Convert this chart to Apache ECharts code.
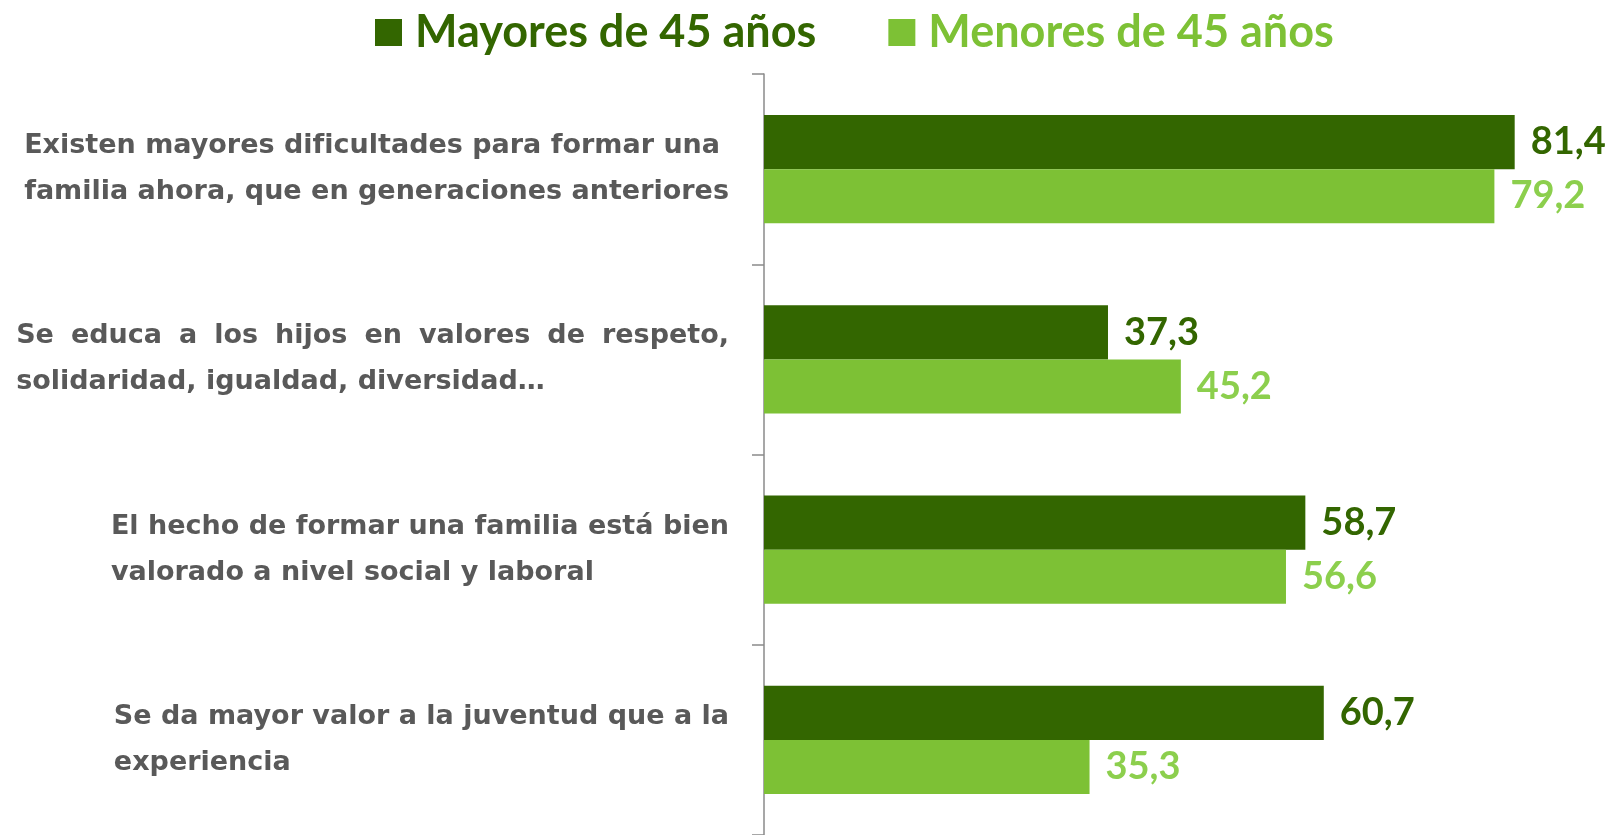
<!DOCTYPE html>
<html lang="es">
<head>
    <meta charset="utf-8">
    <title>Mayores y menores de 45 años</title>
    <script src="https://cdn.jsdelivr.net/npm/echarts@6/dist/echarts.min.js"></script>
    <style>
        html, body { margin: 0; padding: 0; background: #fff; }
        #box { width: 1610px; height: 835px; }
    </style>
</head>
<body>
<div id="box"></div>
<script>
    // datos
    var categorias = [
        'Existen mayores dificultades para formar una\nfamilia ahora, que en generaciones anteriores',
        'Se educa a los hijos en valores de respeto,\nsolidaridad, igualdad, diversidad…',
        'El hecho de formar una familia está bien\nvalorado a nivel social y laboral',
        'Se da mayor valor a la juventud que a la\nexperiencia'
    ];
    var mayores = [81.4, 37.3, 58.7, 60.7];
    var menores = [79.2, 45.2, 56.6, 35.3];
    var nombres = ['Mayores de 45 años', 'Menores de 45 años'];

    var oscuro = '#336600';
    var claro = '#7dc135';
    var claroTexto = '#8ccf4d';
    var fuente = 'Lato, "Open Sans", sans-serif';
    var fuenteEje = '"DejaVu Sans", sans-serif';
    var tamEje = 27;
    var justificar = [1]; // solo la segunda etiqueta va justificada

    function coma(p) {
        return String(p.value).replace('.', ',');
    }

    var ctx = document.createElement('canvas').getContext('2d');
    ctx.font = 'bold ' + tamEje + 'px ' + fuenteEje;
    var ancho = 0;
    categorias.forEach(function (c) {
        c.split('\n').forEach(function (l) { ancho = Math.max(ancho, ctx.measureText(l).width); });
    });
    ancho += 8;
    var base = { align: 'left', color: '#595959', fontFamily: fuenteEje, fontWeight: 'bold', fontSize: tamEje, lineHeight: 46 };
    var rich = { a: base };
    var extra = {};
    justificar.forEach(function (i) {
        var lineas = categorias[i].split('\n');
        lineas.forEach(function (l, k) {
            if (k === lineas.length - 1) return;
            var palabras = l.split(' ');
            var falta = ancho - ctx.measureText(l).width;
            if (falta > 0 && palabras.length > 1) {
                var key = 'j' + i + '_' + k;
                rich[key] = Object.assign({}, base, { padding: [0, falta / (palabras.length - 1), 0, 0] });
                extra[i + '_' + k] = key;
            }
        });
    });

    var myChart = echarts.init(document.getElementById('box'));
    var option = {
        animation: false,
        legend: {
            top: 5,
            left: 370,
            itemWidth: 27,
            itemHeight: 27,
            itemGap: 72,
            icon: 'rect',
            textStyle: { fontFamily: fuente, fontWeight: 'bold', fontSize: 45, padding: [0, 0, 0, 8] },
            data: [
                { name: nombres[0], textStyle: { color: oscuro } },
                { name: nombres[1], textStyle: { color: claro } }
            ]
        },
        grid: { left: 764, right: 16, top: 74, bottom: 0 },
        xAxis: {
            type: 'value',
            min: 0,
            max: 90,
            show: false
        },
        yAxis: {
            type: 'category',
            inverse: true,
            data: categorias,
            axisLine: { lineStyle: { color: '#8a8a8a', width: 1.5 } },
            axisTick: { show: true, length: 12, lineStyle: { color: '#8a8a8a', width: 1.5 } },
            axisLabel: {
                align: 'right',
                margin: 35,
                formatter: function (v, idx) {
                    return v.split('\n').map(function (l, k) {
                        var key = extra[idx + '_' + k];
                        if (!key) return '{a|' + l + '}';
                        var p = l.split(' ');
                        return p.map(function (w, n) {
                            return n < p.length - 1 ? '{' + key + '|' + w + ' }' : '{a|' + w + '}';
                        }).join('');
                    }).join('\n');
                },
                rich: rich
            }
        },
        series: [
            {
                name: nombres[0],
                type: 'bar',
                data: mayores,
                barGap: '0%',
                barCategoryGap: '43%',
                itemStyle: { color: oscuro },
                label: {
                    show: true,
                    position: 'right',
                    distance: 16,
                    formatter: coma,
                    color: oscuro,
                    fontFamily: fuente,
                    fontWeight: 'bold',
                    fontSize: 38
                }
            },
            {
                name: nombres[1],
                type: 'bar',
                data: menores,
                barGap: '0%',
                barCategoryGap: '43%',
                itemStyle: { color: claro },
                label: {
                    show: true,
                    position: 'right',
                    distance: 16,
                    formatter: coma,
                    color: claroTexto,
                    fontFamily: fuente,
                    fontWeight: 'bold',
                    fontSize: 38
                }
            }
        ]
    };
    myChart.setOption(option);
</script>
</body>
</html>
